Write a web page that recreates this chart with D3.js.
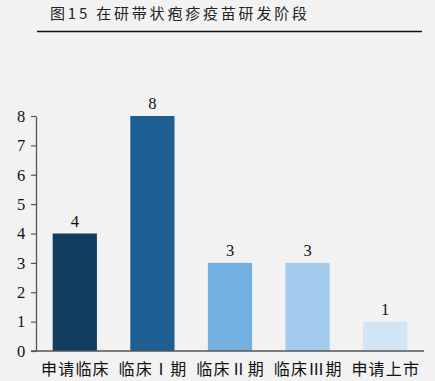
<!DOCTYPE html>
<html>
<head>
<meta charset="utf-8">
<script src="https://cdn.jsdelivr.net/npm/d3@7"></script>
<style>
  body { margin: 0; background: #f2f2f2; }
  svg { display: block; }
</style>
</head>
<body>
<div id="viz"></div>
<script>
// data
const stages = ["申请临床", "临床Ⅰ期", "临床Ⅱ期", "临床Ⅲ期", "申请上市"]
const counts = [4, 8, 3, 3, 1]
const barColors = ["#133d5f", "#1d5f93", "#73b1e2", "#a3cbee", "#d0e5f6"]
const yTicks = [0, 1, 2, 3, 4, 5, 6, 7, 8]

const width = 435, height = 381
const svg = d3.select("#viz").append("svg")
  .attr("width", width)
  .attr("height", height)

svg.append("rect").attr("width", width).attr("height", height).attr("fill", "#f2f2f2")

// title + rule
svg.append("text")
  .attr("x", 50).attr("y", 19)
  .attr("font-family", "Noto Sans CJK SC")
  .attr("font-size", 15)
  .attr("letter-spacing", 2.8)
  .attr("fill", "#222")
  .text("图15 在研带状疱疹疫苗研发阶段")

svg.append("line")
  .attr("x1", 37).attr("x2", 422)
  .attr("y1", 31.5).attr("y2", 31.5)
  .attr("stroke", "#111").attr("stroke-width", 1.5)

const x = d3.scaleBand()
  .domain(stages)
  .range([36, 424])
  .paddingInner(0.43)
  .paddingOuter(0.215)

const y = d3.scaleLinear()
  .domain([0, 8])
  .range([351, 116])

// y axis
const yAxis = svg.append("g")
  .attr("transform", "translate(36,0)")
  .call(d3.axisLeft(y).tickValues(yTicks).tickSize(5).tickSizeOuter(0))
yAxis.select(".domain").attr("stroke", "#555").attr("stroke-width", 1.3)
yAxis.selectAll(".tick line").attr("stroke", "#555").attr("stroke-width", 1.2)
yAxis.selectAll(".tick text")
  .attr("x", -15)
  .attr("font-family", "Liberation Serif")
  .attr("font-size", 16.5)
  .attr("fill", "#111")
  .attr("text-anchor", "middle")

// bars
svg.selectAll(".bar")
  .data(stages)
  .join("rect")
  .attr("class", "bar")
  .attr("x", d => x(d))
  .attr("width", x.bandwidth())
  .attr("y", (d, i) => y(counts[i]))
  .attr("height", (d, i) => y(0) - y(counts[i]))
  .attr("fill", (d, i) => barColors[i])

// value labels
svg.selectAll(".val")
  .data(stages)
  .join("text")
  .attr("class", "val")
  .attr("x", d => x(d) + x.bandwidth() / 2)
  .attr("y", (d, i) => y(counts[i]) - 7)
  .attr("text-anchor", "middle")
  .attr("font-family", "Liberation Serif")
  .attr("font-size", 16.5)
  .attr("fill", "#111")
  .text((d, i) => counts[i])

// x axis
const xAxis = svg.append("g")
  .attr("transform", "translate(0,351)")
  .call(d3.axisBottom(x).tickSize(0).tickSizeOuter(0))
xAxis.select(".domain").attr("d", "M31,0H424").attr("stroke", "#555").attr("stroke-width", 1.5)
xAxis.selectAll(".tick text")
  .attr("dy", 0)
  .attr("y", 24)
  .attr("x", 0.6)
  .attr("font-family", "Noto Sans CJK SC")
  .attr("font-size", 16)
  .attr("letter-spacing", 1.2)
  .attr("fill", "#111")
</script>
</body>
</html>
